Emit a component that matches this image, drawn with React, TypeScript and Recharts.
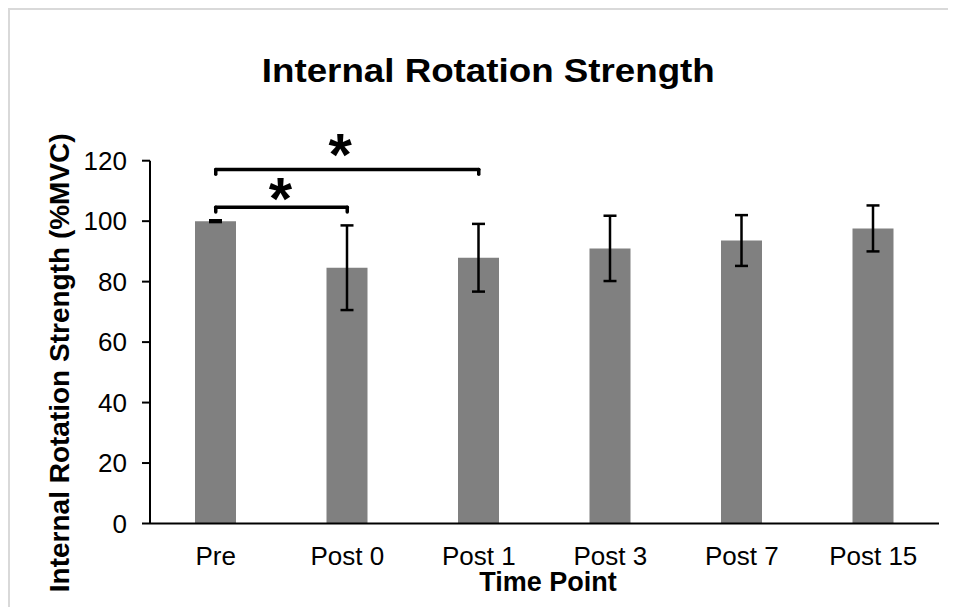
import React from 'react';
import { BarChart, Bar, XAxis, YAxis, ErrorBar, ReferenceLine } from 'recharts';

const categories = ['Pre', 'Post 0', 'Post 1', 'Post 3', 'Post 7', 'Post 15'];
const strength = [100, 84.6, 87.9, 91.0, 93.6, 97.6];
const errors = [0.3, 14.0, 11.2, 10.8, 8.4, 7.6];
const yTicks = [0, 20, 40, 60, 80, 100, 120];

// significance brackets
const sigFrom = ['Pre', 'Pre'];
const sigTo = ['Post 0', 'Post 1'];
const sigLevel = [104.6, 117.1];
const sigDrop = 1.6;

const data = categories.map((c, i) => ({ name: c, value: strength[i], err: errors[i] }));

const FONT = '"Liberation Sans", Arial, sans-serif';

export default function App() {
  const W = 946;
  const H = 597;
  return (
    <div
      style={{
        position: 'relative',
        width: 948,
        height: 599,
        boxSizing: 'border-box',
        borderTop: '2px solid #d9d9d9',
        borderLeft: '2px solid #d9d9d9',
        overflow: 'hidden',
        fontFamily: FONT,
      }}
    >
      <BarChart
        width={W}
        height={H}
        data={data}
        margin={{ top: 150.7, right: 17, left: 0, bottom: 43.5 }}
      >
        <XAxis
          dataKey="name"
          height={40}
          tickLine={false}
          tickSize={0}
          tickMargin={23}
          axisLine={{ stroke: '#000', strokeWidth: 2 }}
          tick={{ fill: '#000', fontSize: 26, fontFamily: FONT }}
        />
        <YAxis
          width={140}
          domain={[0, 120]}
          ticks={yTicks}
          tickSize={8}
          tickMargin={15}
          axisLine={{ stroke: '#000', strokeWidth: 2 }}
          tickLine={{ stroke: '#000', strokeWidth: 2 }}
          tick={{ fill: '#000', fontSize: 26, fontFamily: FONT }}
        />
        <Bar dataKey="value" fill="#808080" barSize={41} isAnimationActive={false}>
          <ErrorBar dataKey="err" width={6.5} stroke="#000" strokeWidth={2.5} direction="y" />
        </Bar>
        {sigLevel.map((lvl, i) => (
          <ReferenceLine
            key={'h' + i}
            segment={[
              { x: sigFrom[i], y: lvl },
              { x: sigTo[i], y: lvl },
            ]}
            stroke="#000"
            strokeWidth={3.5}
            strokeLinecap="round"
            ifOverflow="visible"
            label={{
              value: '*',
              position: 'top',
              offset: i === 0 ? -12 : -6,
              dx: i === 0 ? -1 : -7,
              fill: '#000',
              fontSize: 60,
              fontWeight: 'bold',
              fontFamily: FONT,
            }}
          />
        ))}
        {sigLevel.map((lvl, i) => (
          <ReferenceLine
            key={'l' + i}
            segment={[
              { x: sigFrom[i], y: lvl },
              { x: sigFrom[i], y: lvl - sigDrop },
            ]}
            stroke="#000"
            strokeWidth={3.5}
            strokeLinecap="round"
            ifOverflow="visible"
          />
        ))}
        {sigLevel.map((lvl, i) => (
          <ReferenceLine
            key={'r' + i}
            segment={[
              { x: sigTo[i], y: lvl },
              { x: sigTo[i], y: lvl - sigDrop },
            ]}
            stroke="#000"
            strokeWidth={3.5}
            strokeLinecap="round"
            ifOverflow="visible"
          />
        ))}
      </BarChart>
      <svg
        width={W}
        height={H}
        style={{ position: 'absolute', left: 0, top: 0, pointerEvents: 'none' }}
      >
        <text
          x={478.3}
          y={71.7}
          textAnchor="middle"
          fontFamily={FONT}
          fontWeight="bold"
          fontSize={33}
          fill="#000"
          textLength={453}
          lengthAdjust="spacingAndGlyphs"
        >
          Internal Rotation Strength
        </text>
        <text
          x={538}
          y={581}
          textAnchor="middle"
          fontFamily={FONT}
          fontWeight="bold"
          fontSize={27}
          fill="#000"
        >
          Time Point
        </text>
        <text
          x={59.3}
          y={352.8}
          transform="rotate(-90, 59.3, 352.8)"
          textAnchor="middle"
          fontFamily={FONT}
          fontWeight="bold"
          fontSize={28}
          fill="#000"
        >
          Internal Rotation Strength (%MVC)
        </text>
      </svg>
    </div>
  );
}
